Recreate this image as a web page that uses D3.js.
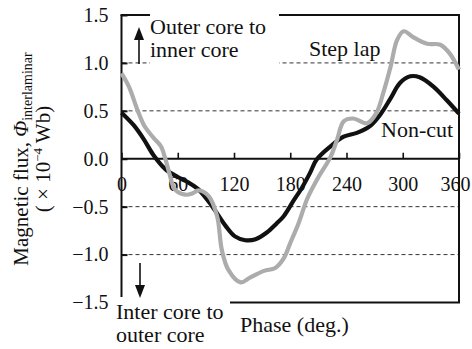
<!DOCTYPE html>
<html>
<head>
<meta charset="utf-8">
<script src="https://cdn.jsdelivr.net/npm/d3@7"></script>
<style>
  html, body { margin: 0; padding: 0; background: #fff; }
  svg { display: block; font-family: "Liberation Serif", "Times New Roman", serif; }
</style>
</head>
<body>
<svg id="chart" width="472" height="349"></svg>
<script>
// Interlaminar magnetic flux over one excitation cycle
const phaseTicks = [0, 60, 120, 180, 240, 300, 360];
const fluxTicks = [-1.5, -1.0, -0.5, 0.0, 0.5, 1.0, 1.5];
const gridValues = [-1.0, -0.5, 0.5, 1.0];

// Non-cut core: [phase (deg), flux (x10^-4 Wb)]
const nonCutPhase = [0, 13, 24, 34, 47, 60, 70, 82, 97, 111, 121, 132, 143, 155, 165, 173, 184, 192, 201, 208, 223, 237, 251, 265, 276, 287, 297, 308, 318, 333, 347, 360];
const nonCutFlux  = [0.48, 0.35, 0.20, 0.04, -0.11, -0.19, -0.24, -0.32, -0.50, -0.70, -0.81, -0.85, -0.84, -0.77, -0.68, -0.60, -0.43, -0.31, -0.15, -0.01, 0.13, 0.23, 0.27, 0.34, 0.46, 0.63, 0.79, 0.86, 0.85, 0.75, 0.61, 0.47];

// Step lap core
const stepLapPhase = [0, 8, 17, 24, 34, 42, 47, 51, 57, 68, 76, 82, 93, 102, 107, 114, 127, 137, 152, 164, 173, 180, 189, 198, 209, 223, 230, 237, 247, 262, 272, 279, 287, 294, 301, 311, 326, 340, 350, 360];
const stepLapFlux  = [0.89, 0.75, 0.51, 0.35, 0.22, 0.13, -0.01, -0.15, -0.32, -0.375, -0.36, -0.33, -0.39, -0.60, -0.95, -1.16, -1.29, -1.24, -1.17, -1.14, -1.04, -0.88, -0.67, -0.42, -0.21, 0.02, 0.20, 0.39, 0.42, 0.37, 0.48, 0.68, 0.96, 1.24, 1.33, 1.27, 1.20, 1.19, 1.10, 0.93];

const svg = d3.select("#chart");
const plotLeft = 121.5, plotRight = 459, plotTop = 15, plotBottom = 302.5;

const x = d3.scaleLinear().domain([0, 360]).range([plotLeft, plotRight]);
const y = d3.scaleLinear().domain([-1.5, 1.5]).range([plotBottom, plotTop]);

// dashed reference lines
svg.append("g").selectAll("line").data(gridValues).join("line")
  .attr("x1", plotLeft).attr("x2", plotRight)
  .attr("y1", d => y(d)).attr("y2", d => y(d))
  .attr("stroke", "#333").attr("stroke-width", 1)
  .attr("stroke-dasharray", "4,3");

// frame: left axis, top, right, bottom
const frame = svg.append("g").attr("stroke", "#111").attr("stroke-width", 2).attr("fill", "none");
frame.append("line").attr("x1", plotLeft).attr("x2", plotLeft).attr("y1", plotTop).attr("y2", plotBottom);
frame.append("line").attr("x1", plotLeft - 1).attr("x2", plotRight + 1).attr("y1", plotTop).attr("y2", plotTop);
frame.append("line").attr("x1", plotRight).attr("x2", plotRight).attr("y1", plotTop).attr("y2", plotBottom);
frame.append("line").attr("x1", plotLeft).attr("x2", plotRight + 1).attr("y1", plotBottom).attr("y2", plotBottom);
// zero line
frame.append("line").attr("x1", plotLeft).attr("x2", plotRight).attr("y1", y(0)).attr("y2", y(0));

// y axis: inward ticks, labels on the left
const yAxis = d3.axisLeft(y).tickValues(fluxTicks).tickSize(-6).tickPadding(13)
  .tickFormat(d3.format(".1f"));
const gy = svg.append("g").attr("transform", `translate(${plotLeft},0)`).call(yAxis);
gy.select(".domain").remove();
gy.selectAll(".tick line").attr("stroke", "#111").attr("stroke-width", 2);
gy.selectAll(".tick text").attr("font-size", 20).attr("fill", "#111")
  .attr("font-family", "Liberation Serif, serif");

// x axis along the zero line: upward ticks, labels just below
const xAxis = d3.axisBottom(x).tickValues(phaseTicks).tickSize(-6).tickPadding(18)
  .tickFormat(d3.format("d"));
const gx = svg.append("g").attr("transform", `translate(0,${y(0)})`).call(xAxis);
gx.select(".domain").remove();
gx.selectAll(".tick line").attr("stroke", "#111").attr("stroke-width", 1.6);
gx.selectAll(".tick text").attr("font-size", 20).attr("fill", "#111")
  .attr("font-family", "Liberation Serif, serif")
  .attr("dx", d => d === 360 ? -4 : 0);

// flux curves
const line = d3.line().x(d => x(d[0])).y(d => y(d[1])).curve(d3.curveCatmullRom.alpha(0.5));
const nonCut = nonCutPhase.map((p, i) => [p, nonCutFlux[i]]);
const stepLap = stepLapPhase.map((p, i) => [p, stepLapFlux[i]]);

svg.append("path").datum(nonCut).attr("d", line)
  .attr("fill", "none").attr("stroke", "#111").attr("stroke-width", 4.2)
  .attr("stroke-linejoin", "round");
svg.append("path").datum(stepLap).attr("d", line)
  .attr("fill", "none").attr("stroke", "#acacac").attr("stroke-width", 4.2)
  .attr("stroke-linejoin", "round");

// direction notes
svg.append("rect").attr("x", 150).attr("y", 8).attr("width", 129).attr("height", 58).attr("fill", "#fff");
svg.append("rect").attr("x", 113).attr("y", 297).attr("width", 117).attr("height", 52).attr("fill", "#fff");

const note = svg.append("g").attr("font-size", 22).attr("fill", "#111");
note.append("text").attr("x", 150).attr("y", 34).text("Outer core to");
note.append("text").attr("x", 150).attr("y", 57).text("inner core");
note.append("text").attr("x", 116).attr("y", 319).text("Inter core to");
note.append("text").attr("x", 116).attr("y", 342).text("outer core");
note.append("text").attr("x", 309).attr("y", 56).text("Step lap");
note.append("text").attr("x", 381).attr("y", 137).text("Non-cut");
note.append("text").attr("x", 240).attr("y", 332).text("Phase (deg.)");

// arrows
const arrows = svg.append("g").attr("fill", "#111").attr("stroke", "#111");
arrows.append("line").attr("x1", 139).attr("x2", 139).attr("y1", 38).attr("y2", 64).attr("stroke-width", 1.6);
arrows.append("path").attr("d", "M139,27 L134,40 L144,40 Z").attr("stroke", "none");
arrows.append("line").attr("x1", 140).attr("x2", 140).attr("y1", 263).attr("y2", 288).attr("stroke-width", 1.6);
arrows.append("path").attr("d", "M140,298 L135,285 L145,285 Z").attr("stroke", "none");

// y axis title
const title = svg.append("g").attr("fill", "#111");
const t1 = title.append("text").attr("transform", "translate(28,159) rotate(-90)")
  .attr("text-anchor", "middle").attr("font-size", 21);
t1.append("tspan").text("Magnetic flux, ");
t1.append("tspan").attr("font-style", "italic").text("Φ");
t1.append("tspan").attr("font-size", 14).attr("dy", 4).text("interlaminar");
const t2 = title.append("text").attr("transform", "translate(50,159) rotate(-90)")
  .attr("text-anchor", "middle").attr("font-size", 21);
t2.append("tspan").text("( × 10");
t2.append("tspan").attr("font-size", 13).attr("dy", -8).text("−4");
t2.append("tspan").attr("dy", 8).text(" Wb)");
</script>
</body>
</html>
